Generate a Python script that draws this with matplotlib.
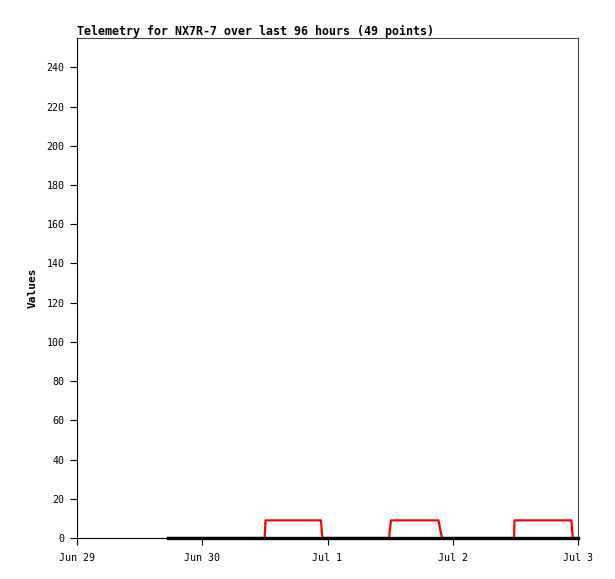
import matplotlib
matplotlib.use("Agg")
import matplotlib.pyplot as plt
import matplotlib.dates as mdates
import numpy as np
import pandas as pd

# Hours after 2024-06-29 00:00
hours = [17.4, 19.5, 21.6, 23.7, 25.8, 27.9, 30.0, 32.1, 34.2, 35.95,
         36.12, 38.2, 40.3, 42.4, 44.5, 46.75,
         46.9, 47.04, 49.1, 51.2, 53.3, 55.4, 57.5, 59.85,
         59.9, 60.17, 62.3, 64.4, 66.5, 69.27,
         69.55, 69.94, 72.0, 74.1, 76.2, 78.3, 80.4, 82.5, 83.75,
         83.83, 85.9, 88.0, 90.1, 92.2, 93.5, 94.75,
         94.9, 95.04, 96.0]
red_values = [0, 0, 0, 0, 0, 0, 0, 0, 0, 0,
              9, 9, 9, 9, 9, 9,
              3, 0, 0, 0, 0, 0, 0, 0,
              3, 9, 9, 9, 9, 9,
              5, 0, 0, 0, 0, 0, 0, 0, 0,
              9, 9, 9, 9, 9, 9, 9,
              3, 0, 0]
black_values = [0] * len(hours)

y_ticks = list(range(0, 241, 20))
x_tick_labels = ["Jun 29", "Jun 30", "Jul 1", "Jul 2", "Jul 3"]
title = "Telemetry for NX7R-7 over last 96 hours (49 points)"

start = pd.Timestamp("2024-06-29")
times = [start + pd.Timedelta(hours=h) for h in hours]
x = mdates.date2num(times)

fig = plt.figure(figsize=(6.15, 5.79), dpi=100)
ax = fig.add_axes([77/615, 1-538/579, (578-77)/615, (538-38)/579])

mono = "DejaVu Sans Mono"
ax.plot(x, red_values, color="#ff0000", lw=1.6, zorder=2)
ax.plot(x, black_values, color="black", lw=2.4, zorder=3, clip_on=False)

tick_dates = mdates.date2num([start + pd.Timedelta(days=i) for i in range(5)])
ax.set_xlim(tick_dates[0], tick_dates[-1])
ax.set_ylim(0, 255)
ax.set_xticks(tick_dates)
ax.set_xticklabels(x_tick_labels, fontfamily=mono, fontsize=7.2)
ax.set_yticks(y_ticks)
ax.set_yticklabels([str(v) for v in y_ticks], fontfamily=mono, fontsize=7.2)
ax.tick_params(axis="both", direction="out", length=5, width=0.8, color="black")
ax.tick_params(axis="x", pad=6)
ax.tick_params(axis="y", pad=4)
for s in ax.spines.values():
    s.set_linewidth(0.8)
    s.set_color("#444444")
ax.spines["bottom"].set_color("black")
ax.spines["left"].set_color("black")

ax.set_ylabel("Values", fontfamily=mono, fontweight="bold", fontsize=8, labelpad=6)
ax.set_title(title, fontfamily=mono, fontweight="bold", fontsize=8.4, loc="left", pad=2)

fig.savefig("out.png", dpi=100, facecolor="white")
